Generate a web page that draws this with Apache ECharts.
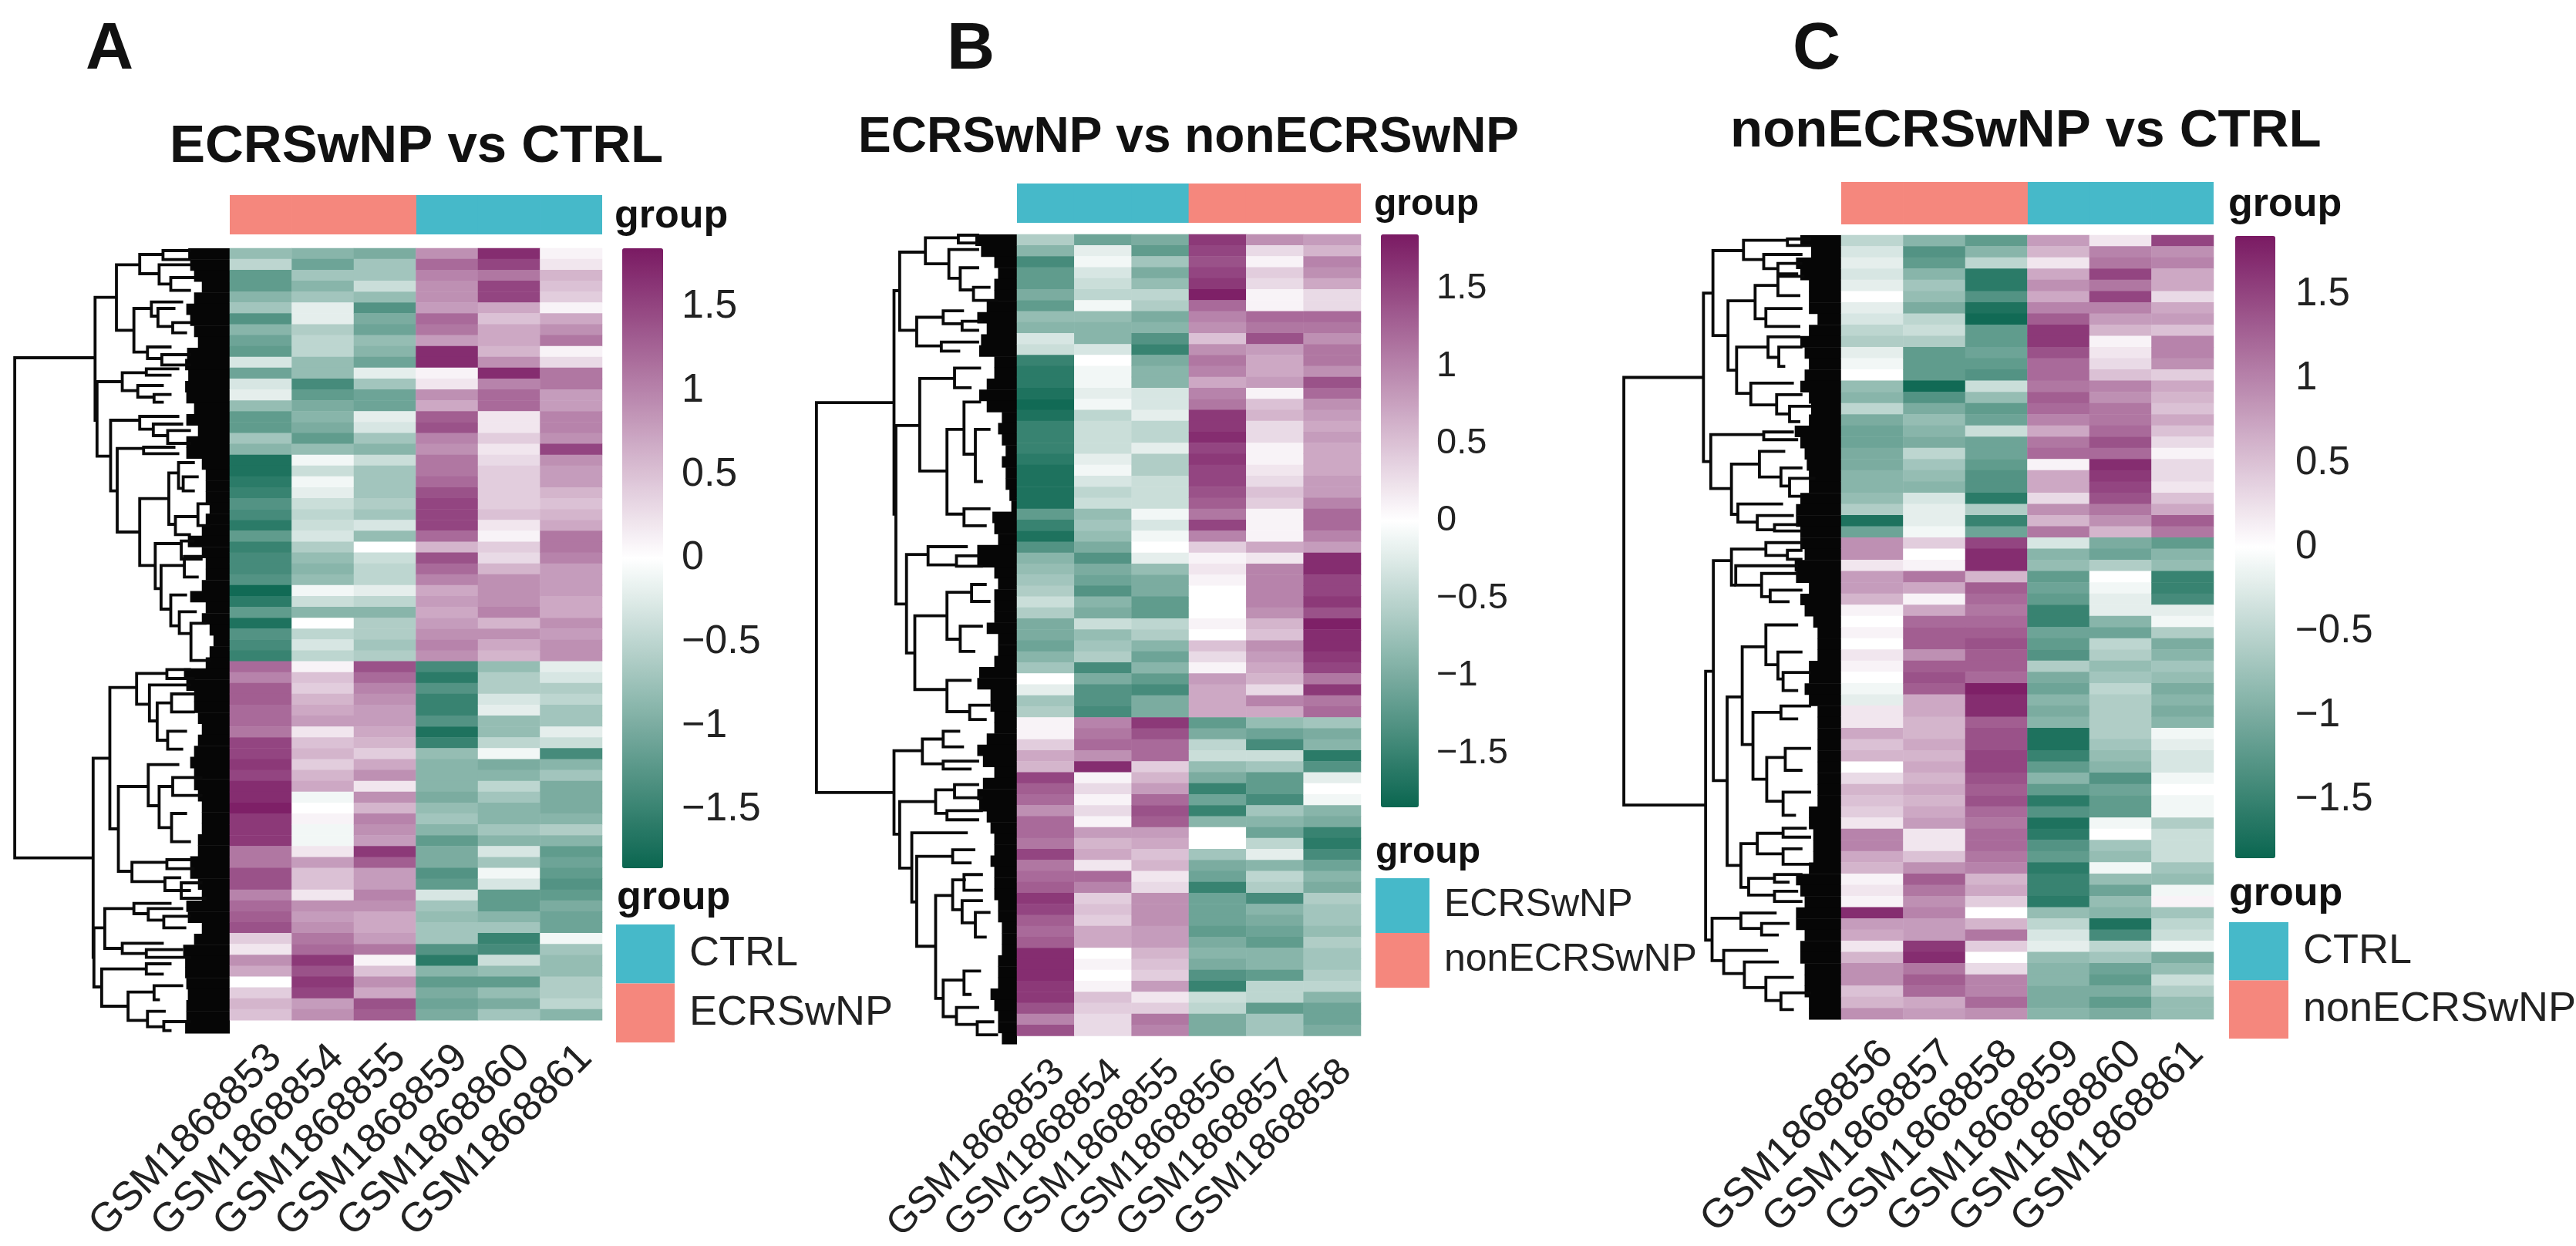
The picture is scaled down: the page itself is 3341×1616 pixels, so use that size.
<!DOCTYPE html>
<html><head><meta charset="utf-8">
<style>html,body{margin:0;padding:0;background:#fff}#c{width:3341px;height:1616px}</style>
<script src="https://cdn.jsdelivr.net/npm/echarts@6/dist/echarts.min.js"></script>
</head><body><div id="c"></div>
<script>
// ---------- data ----------
const colorTicks=[-1.5,-1,-.5,0,.5,1,1.5];
const samplesA=['GSM1868853','GSM1868854','GSM1868855','GSM1868859','GSM1868860','GSM1868861'];
const samplesB=['GSM1868853','GSM1868854','GSM1868855','GSM1868856','GSM1868857','GSM1868858'];
const samplesC=['GSM1868856','GSM1868857','GSM1868858','GSM1868859','GSM1868860','GSM1868861'];
const groupsA=['ECRSwNP','ECRSwNP','ECRSwNP','CTRL','CTRL','CTRL'];
const groupsB=['ECRSwNP','ECRSwNP','ECRSwNP','nonECRSwNP','nonECRSwNP','nonECRSwNP'];
const groupsC=['nonECRSwNP','nonECRSwNP','nonECRSwNP','CTRL','CTRL','CTRL'];

const a1=[-.8,-.5,-1.2,-1.2,-.9,-.7,-1.3,-.9,-1.1,-1.2,-.3,-1.1,-.3,-.2,-.8,-1.2,-1.2,-.7,-.9,-1.7,-1.7,-1.6,-1.5,-1.3,-1.4,-1.6,-1.2,-1.5,-1.4,-1.4,-1.3,-1.8,-1.6,-1.2,-1.7,-1.3,-1.4,-1.5,
1.2,1,1.3,1.3,1.2,1.2,1.1,1.5,1.5,1.6,1.5,1.7,1.7,1.8,1.6,1.6,1.6,1.1,1.1,1.4,1.4,1,1.2,1.3,1.4,.4,.2,.9,.7,0,.4,.6,.5];
const a2=[-.9,-1.1,-.7,-.9,-.7,-.2,-.2,-.6,-.5,-.5,-.8,-.8,-1.4,-1.2,-1,-.9,-1,-1.2,-.8,-.1,-.4,-.1,-.2,-.4,-.5,-.4,-.3,-.6,-.8,-.9,-.8,-.1,-.4,-.9,0,-.5,-.3,-.5,
.1,.5,.4,.6,.7,.8,.2,.5,.6,.4,.6,.7,-.1,0,.1,-.1,-.1,.2,.8,.5,.5,.2,.9,.8,.9,1.1,1.2,1.6,1.4,1.6,1.5,.8,.9];
const a3=[-1,-.7,-.7,-.4,-.8,-1.3,-1,-1.1,-.8,-.9,-1.1,-.2,-.7,-1.1,-1.1,-.2,-.3,-.7,-.9,-.4,-.7,-.7,-.7,-.6,-.7,-.3,-.8,0,-.4,-.5,-.5,-.2,-.5,-.9,-.6,-.6,-.7,-.6,
1.4,1.2,1,.9,.8,.8,.7,.6,.4,.7,.9,.2,.9,.6,1,.9,.8,1.6,1.3,.8,.8,1,.9,.7,.7,.8,1.1,.1,.5,.9,.7,1.4,1.3];
const a4=[.9,1.2,1,.9,.9,.8,1.2,1.1,.8,1.7,1.7,.1,.2,.9,.7,1.3,1.4,1,.9,1.1,1.1,1.2,1.4,1.5,1.5,1.5,1.2,.6,1.4,1.2,1,.7,.8,.7,.8,.9,1,.9,
-1.4,-1.6,-1.3,-1.5,-1.5,-1.3,-1.7,-1.5,-.8,-.9,-.9,-.9,-1,-.8,-.7,-.9,-1.2,-1,-1,-1.3,-1.2,-.3,-.7,-.8,-.7,-.7,-1.3,-1.6,-.9,-1.2,-1,-1.1,-1];
const a5=[1.7,1.5,1.1,1.5,1.5,.7,.5,.7,.7,.6,.9,1.7,1,1.2,1.2,.2,.2,.4,.2,.3,.4,.4,.4,.4,.5,.2,.1,.4,.3,.6,.9,.9,.9,1,.6,.9,.7,.6,
-.8,-.6,-.6,-.3,-.2,-.8,-.8,-.5,-.1,-1,-.9,-.5,-.7,-.9,-.9,-.7,-.9,-.3,-.7,-.1,-.3,-1.2,-1.2,-.9,-.7,-1.5,-1.4,-.4,-.8,-1.2,-.8,-1,-.7];
const a6=[.1,.2,.6,.5,.4,.1,.7,.9,1.1,.1,.3,1.1,1.1,.8,.8,1,1,.9,1.5,.9,.8,.8,.6,.5,.6,.7,1.1,1.1,1,.8,.8,.8,.7,.7,.9,.8,.9,.9,
-.2,-.3,-.6,-.5,-.7,-.7,-.2,-.4,-1.4,-.9,-.7,-1,-1,-1,-.9,-.6,-.9,-1.2,-1.1,-1.2,-1.3,-1.2,-1,-1.1,-1.1,-.1,-.7,-.8,-.8,-.6,-.6,-.5,-.9];

const b1=[-.6,-.9,-1.4,-1.2,-1.2,-1,-1.2,-.8,-.9,-.3,-.4,-1.5,-1.6,-1.6,-1.7,-1.8,-1.7,-1.5,-1.5,-1.5,-1.6,-1.7,-1.7,-1.7,-1.7,-1.2,-1.5,-1.7,-1.3,-.9,-.8,-.7,-.6,-.4,-.6,-1,-1,-1.1,-.9,-.7,0,-.2,-.7,-.6,
.1,.1,.4,.7,.6,1.5,1.3,1.2,.9,1.2,1.2,1.1,1.5,1.1,1.2,1.3,1.6,1.5,1.3,1.2,1.3,1.7,1.7,1.7,1.6,1.6,1.4,1,1.4];
const b2=[-1.1,-.2,-.1,-.3,-.4,-.5,-.1,-.8,-.9,-.9,-.3,0,-.1,-.1,-.2,-.1,-.5,-.4,-.4,-.4,-.2,-.1,-.3,-.5,-.4,-.8,-.7,-.8,-1,-1.3,-1,-1.1,-1.3,-.9,-1,-.4,-.8,-.7,-.6,-1.4,-1,-1.3,-1.3,-1.4,
1,1.1,1.2,.9,1.7,.1,.3,.1,.3,.1,.8,.6,.7,.2,1.2,1,.4,.5,.4,.7,.7,0,.1,0,.1,.5,.4,.3,.3];
const b3=[-1,-1.2,-.7,-1,-.8,-.5,-.6,-1,-.9,-1.3,-1.5,-1,-.9,-.9,-.3,-.3,-.2,-.5,-.5,-.2,-.6,-.6,-.4,-.4,-.4,-.1,-.3,-.1,0,-.2,-.8,-1,-1,-1.2,-1.2,-.5,-.6,-.9,-1.1,-.9,-1.2,-1.4,-1,-1,
1.6,1.4,1.2,1.2,.4,.6,.8,1.2,1.4,1.3,.8,.7,.5,.6,.2,.3,.9,.9,.9,.8,.8,.6,.5,.4,.8,.2,.4,1.1,1];
const b4=[1.6,1.5,1.4,1.5,1.6,1.8,1.2,1,.9,.5,.9,1.1,1,.7,1,1.1,1.6,1.6,1.7,1.5,1.6,1.5,1.5,1.4,1.3,1.1,1.5,1,.4,.1,.2,.1,0,0,0,.1,0,.5,.3,.1,.8,.7,.7,.7,
-1.2,-1,-.5,-.4,-.8,-1,-1.5,-1.1,-1.5,-.9,0,0,-.7,-1,-1.1,-1.5,-1.1,-1.1,-1.1,-1.2,-1,-.9,-1,-1.3,-1.5,-.4,-.5,-1,-1];
const b5=[.9,.3,.1,.4,.3,.1,.1,1.2,1.1,1.4,.8,.7,.7,.8,.1,.5,.6,.3,.3,.1,.1,.2,.3,.5,.4,.1,.1,.1,.7,.2,1,1,1,1,.9,.6,.5,.9,.8,.7,.6,.3,1,.7,
-.8,-1.1,-1.4,-.4,-.7,-1.2,-1.2,-1.4,-.7,-.9,-1.1,-.5,-.2,-.9,-.5,-.6,-1.4,-.9,-1,-1.1,-1.2,-.9,-.9,-1.2,-.5,-.5,-1.2,-.7,-.7];
const b6=[.8,.6,1,.9,.7,.3,.3,1.2,1.1,.9,1.1,1.1,.9,1.4,1.2,.9,.8,.7,.8,.7,.7,.7,.8,.8,1,1.2,1.2,1,.8,1.7,1.7,1.5,1.5,1.6,1.4,1.8,1.7,1.7,1.6,1.5,1.1,1.6,1.1,1.2,
-.7,-1,-.9,-1.6,-1.3,-.2,0,-.1,-.9,-1,-1.5,-1.6,-1.4,-1.1,-.9,-1,-.6,-.7,-.7,-.8,-.6,-.7,-.7,-.6,-.5,-.9,-1.1,-1.1,-1];

const c1=[-.5,-.3,-.2,-.3,-.2,0,-.2,-.3,-.5,-.6,-.2,-.1,0,-.8,-.9,-.5,-1,-1.1,-1.1,-1,-1,-.9,-.9,-.8,-.6,-1.7,-1.1,
.9,.9,.2,.8,.8,.6,.1,0,.1,0,.2,.1,0,-.1,-.2,.2,.2,.7,.5,.6,0,.3,.6,.5,.4,.2,1,1,.7,.6,.1,.2,.1,1.7,.8,.7,.2,.6,.9,.9,.5,.6,.9];
const c2=[-.9,-1.3,-1.2,-.9,-.7,-.8,-1,-.5,-.4,-.6,-1.2,-1.2,-1.2,-1.8,-1.3,-1,-.8,-.9,-1,-.5,-.7,-.8,-.9,-.3,-.2,-.2,-.1,
.4,0,.1,1.1,.7,.1,.7,1.2,1.3,1.3,.9,1.3,1.4,1.3,.7,.7,.6,.6,.7,.6,.7,.6,.7,.6,.7,.8,.2,.2,.5,.9,1.3,1.1,.9,1,.8,.8,1.6,1.7,1.1,1.3,1.2,.7,.8];
const c3=[-1.2,-.9,-.5,-1.6,-1.6,-1.3,-1.7,-1.8,-1.2,-1.2,-1.1,-1.2,-1.3,-.4,-.8,-1.2,-1.1,-.4,-1.1,-1.1,-1.2,-1.3,-1.3,-1.6,-.6,-1.5,-1.1,
1.5,1.7,1.7,.6,1.3,1.2,1.1,1.2,1.3,1.4,1.3,1.3,1.2,1.8,1.7,1.7,1.3,1.4,1.4,1.5,1.5,1.4,1.3,1.4,1.2,1.1,1.2,1.2,1.1,1,.6,.7,.4,0,.6,1.1,.4,0,.3,1,1,1.2,.9];
const c4=[.8,.6,.2,.7,.9,.7,1,1.3,1.6,1.6,1.4,1.2,1.2,1.1,1.3,1.2,1,.7,1.1,1.2,.1,.7,.7,.3,.9,.6,1.1,
-.3,-.9,-.8,-1.2,-1.1,-1.2,-1.5,-1.5,-1.1,-1.2,-1.3,-.6,-1,-1.1,-.9,-1,-.9,-1.7,-1.7,-1.5,-1.2,-.9,-1.2,-1.6,-1.3,-1.7,-1.6,-1.3,-1.2,-1.6,-1.5,-1.5,-1.6,-.8,-.5,-.3,-.2,-.8,-.9,-.9,-1,-1,-.9];
const c5=[.2,1,1.1,1.5,1.1,1.5,1,.8,.6,.1,.2,.3,.5,1,.9,1.1,1.1,1.2,1.4,1.2,1.7,1.6,1.5,1.4,1.1,.9,.6,
-1,-1.1,-.6,0,-.1,-.2,-.2,-.9,-1.1,-.5,-.6,-.8,-.7,-.5,-.6,-.6,-.6,-.6,-.7,-.8,-.9,-1.3,-1.1,-1.2,-1.2,-.1,0,-.7,-.8,-.1,-.8,-1.1,-.8,-.9,-1.7,-1.4,-.5,-.7,-1.1,-1.2,-1,-1.2,-1];
const c6=[1.5,.9,1,.7,.7,.3,.7,.8,.5,1,1,.9,.4,.7,.6,.5,.7,.5,.3,.1,.3,.3,.2,.5,.7,1.3,1.1,
-1.2,-.9,-.8,-1.5,-1.5,-1.4,-.2,-.1,-.6,-1,-.9,-.7,-.8,-1,-.9,-1,-.9,-.1,-.2,-.3,-.3,-.1,0,-.1,-.1,-.6,-.4,-.4,-.4,-.7,-.8,-.1,.1,-.7,-.5,-.4,-.1,-1,-.8,-.4,-.6,-.8,-.8];

// dendrogram merges: [height, branch 1 order, branch 2 order, height of branch 1, height of branch 2]
const treeA=[[554,426,2372,347,352],[347,191,669,292,342],[342,519,809,277,307],[292,64,319,232,247],[232,24,99,172,182],[172,9,44,100,100],[182,64,139,100,150],[152,114,164,90,100],[247,234,404,202,212],[202,209,264,120,185],[185,234,304,140,147],[147,289,329,100,110],[212,384,429,150,175],[175,414,454,100,100],[277,484,554,215,237],[215,469,494,130,150],[237,534,579,170,195],[195,569,599,150,170],[307,669,944,232,290],[232,654,704,130,197],[197,684,729,120,160],[160,709,759,100,100],[290,779,1104,222,232],[222,774,799,140,130],[232,974,1234,157,192],[157,874,1074,132,140],[132,834,934,90,120],[120,889,944,80,90],[140,1044,1114,82,100],[82,994,1079,50,50],[192,1149,1324,125,177],[125,1139,1209,90,70],[177,1234,1404,117,152],[117,1199,1279,70,80],[152,1349,1469,110,130],[130,1414,1499,85,100],[100,1459,1604,60,50],
[352,1984,2759,309,350],[350,2644,2874,322,330],[309,1709,2259,240,287],[240,1654,1774,162,207],[162,1639,1674,100,90],[207,1699,1839,100,187],[187,1769,1914,150,160],[150,1734,1804,90,90],[160,1879,1949,110,120],[287,2094,2424,210,252],[210,2009,2169,130,182],[182,2094,2254,147,150],[147,2059,2129,70,70],[150,2199,2309,110,100],[252,2389,2464,162,167],[162,2379,2414,100,90],[167,2449,2499,125,100],[125,2469,2529,70,60],[322,2569,2724,247,277],[247,2549,2589,150,210],[210,2569,2614,120,170],[170,2599,2644,100,112],[277,2704,2744,170,215],[215,2729,2759,120,100],[330,2804,2949,215,262],[215,2784,2824,150,170],[262,2894,3004,195,212],[195,2869,2924,120,180],[212,2969,3029,165,170],[170,3009,3044,100,150]];
const treeB=[[530,645,2141,325,325],[325,216,1073,310,320],[310,68,368,242,265],[242,13,113,155,180],[155,3,33,100,100],[180,58,168,100,150],[150,128,213,100,115],[115,203,253,70,50],[265,318,428,195,200],[195,293,343,140,145],[145,333,368,90,100],[200,413,448,100,150],[320,733,1418,257,292],[257,553,908,165,185],[165,513,588,95,120],[185,748,1073,140,140],[140,643,843,95,110],[110,748,948,70,90],[140,1053,1118,70,80],[292,1228,1606,235,270],[235,1198,1268,130,160],[160,1233,1273,100,90],[270,1463,1746,185,185],[185,1373,1553,120,150],[150,1503,1600,90,110],[120,1343,1408,80,70],[185,1711,1831,120,125],[125,1806,1861,70,80],
[325,1981,2301,250,310],[250,1936,2031,195,195],[195,1906,1966,150,140],[195,2021,2051,100,120],[310,2176,2431,215,278],[215,2131,2221,165,185],[165,2111,2161,100,90],[185,2211,2246,90,100],[278,2296,2561,130,265],[265,2386,2731,170,215],[170,2361,2411,110,120],[215,2536,2931,170,195],[170,2476,2591,135,145],[140,2456,2516,90,90],[145,2556,2641,90,110],[110,2601,2696,70,80],[195,2861,3001,140,160],[140,2826,2916,95,120],[160,2966,3031,100,105],[105,3021,3071,60,50]];
const treeC=[[505,553,2215,320,315],[320,225,880,298,303],[298,60,390,227,263],[227,20,95,125,180],[125,15,40,70,70],[180,75,130,90,147],[147,110,150,90,100],[263,255,525,200,243],[200,195,325,147,175],[147,160,235,85,95],[175,285,355,90,95],[243,435,615,170,210],[170,395,475,95,145],[145,435,510,90,130],[210,575,660,110,150],[150,620,695,90,120],[120,665,725,70,95],[303,775,985,180,255],[180,765,795,110,100],[255,890,1085,190,240],[190,840,940,130,140],[140,905,975,90,120],[120,945,1015,60,90],[240,1045,1115,135,195],[195,1090,1145,110,155],[155,1125,1150,100,90],
[315,1695,2740,297,300],[297,1265,2120,255,265],[255,1220,1360,175,245],[175,1195,1245,90,125],[125,1225,1260,90,90],[245,1285,1360,100,185],[185,1315,1405,100,165],[165,1380,1425,90,120],[265,1795,2450,230,233],[230,1600,1980,175,205],[175,1515,1670,100,147],[147,1620,1725,90,135],[135,1700,1770,70,100],[205,1855,2115,140,173],[140,1830,1880,70,100],[173,2030,2200,130,135],[130,1995,2080,70,90],[135,2165,2255,70,105],[233,2365,2535,195,215],[195,2325,2405,135,135],[135,2305,2340,80,70],[135,2385,2445,90,70],[215,2500,2565,155,155],[155,2485,2515,90,120],[155,2550,2590,100,90],[300,2655,2820,233,273],[233,2635,2695,150,185],[185,2675,2720,120,145],[273,2780,2870,170,225],[225,2825,2925,145,175],[175,2885,2975,110,140],[140,2945,3010,70,110]];
// height at which the leaves fuse into solid black, per heatmap row
const leafA=[107,102,92,72,92,112,102,92,82,110,115,107,115,112,92,112,82,112,112,72,62,62,62,52,62,72,108,72,62,62,72,102,62,72,52,42,52,62,118,112,92,92,82,72,82,92,102,92,92,82,72,72,72,82,82,102,102,82,72,112,108,72,92,120,115,115,112,108,112,112,115];
const leafB=[110,95,60,50,60,60,80,105,80,95,100,60,60,80,100,80,40,50,40,30,40,30,30,20,15,65,60,50,105,105,60,50,60,60,60,80,50,50,60,100,105,70,70,60,60,80,105,90,60,90,105,100,80,70,60,60,70,60,60,60,50,50,40,40,40,50,50,50,70,60,50,50,40];
const leafC=[95,70,105,95,75,75,75,55,75,95,85,75,85,95,75,70,75,108,95,85,80,75,75,95,105,105,95,95,85,108,105,75,95,85,65,55,55,55,75,75,85,75,55,55,55,55,55,55,55,55,55,75,75,65,65,65,75,105,95,85,105,105,85,95,95,85,85,85,75,75];

// ---------- layout and styles ----------
const TEAL='#46B9C9',SALMON='#F5877D',FONT='"Liberation Sans",Arial,sans-serif',INK='#111';
const panels=[
 {letter:'A',lx:111,title:'ECRSwNP vs CTRL',tx:220,ty:156,ts:69,samples:samplesA,groups:groupsA,cols:[a1,a2,a3,a4,a5,a6],tree:treeA,leaf:leafA,
  hm:[298,322,483,1018],strip:[253,51],den:[0,298,592,3054],cb:[807,322,53,804],cbFont:52,cbMargin:24,gx:797,gy:255,gs:52,
  lgTitle:[800,1139],lg:[799,1199,76,76.5,54],lgNames:['CTRL','ECRSwNP'],xFont:53,xMargin:22},
 {letter:'B',lx:1228,title:'ECRSwNP vs nonECRSwNP',tx:1113,ty:147,ts:64,samples:samplesB,groups:groupsB,cols:[b1,b2,b3,b4,b5,b6],tree:treeB,leaf:leafB,
  hm:[1319,304,446,1050],strip:[238,51],den:[1000,319,650,3106],cb:[1791,304,49,743],cbFont:47,cbMargin:23,gx:1782,gy:242,gs:48,
  lgTitle:[1784,1082],lg:[1784,1139,70,71,50],lgNames:['ECRSwNP','nonECRSwNP'],xFont:49,xMargin:22},
 {letter:'C',lx:2325,title:'nonECRSwNP vs CTRL',tx:2244,ty:136,ts:69,samples:samplesC,groups:groupsC,cols:[c1,c2,c3,c4,c5,c6],tree:treeC,leaf:leafC,
  hm:[2388,305,483,1017],strip:[236,55],den:[2000,388,695,3048],cb:[2899,306,52,807],cbFont:51,cbMargin:26,gx:2890,gy:240,gs:52,
  lgTitle:[2891,1134],lg:[2891,1196,77,75.5,54],lgNames:['CTRL','nonECRSwNP'],xFont:53,xMargin:18}
];
const grid=[],xAxis=[],yAxis=[],series=[],title=[],legend=[],visualMap=[];
function text(t,x,y,s){title.push({text:t,left:x,top:y,padding:0,textStyle:{fontFamily:FONT,fontWeight:'bold',fontSize:s,color:INK}});}
panels.forEach(p=>{
  text(p.letter,p.lx,22,86);text(p.title,p.tx,p.ty,p.ts);text('group',p.gx,p.gy,p.gs);text('group',p.lgTitle[0],p.lgTitle[1],p.gs);
  const [hl,ht,hw,hh]=p.hm, nRows=p.cols[0].length;
  let g=grid.length;
  grid.push({left:p.den[0],top:ht,width:p.den[1],height:hh});
  xAxis.push({type:'value',gridIndex:g,min:0,max:p.den[2],inverse:true,show:false});
  yAxis.push({type:'value',gridIndex:g,min:0,max:p.den[3],inverse:true,show:false});
  const rowU=p.den[3]/nRows;
  series.push({type:'custom',xAxisIndex:g,yAxisIndex:g,clip:false,silent:true,animation:false,data:p.leaf.map((d,i)=>[d,i]),
    encode:{x:0,y:1},
    renderItem:(params,api)=>{const a=api.coord([api.value(0),api.value(1)*rowU]),b=api.coord([0,(api.value(1)+1)*rowU]);
      return {type:'rect',shape:{x:a[0],y:a[1],width:b[0]-a[0],height:b[1]-a[1]+.5},style:{fill:'#060606'}};}});
  series.push({type:'custom',xAxisIndex:g,yAxisIndex:g,clip:false,silent:true,animation:false,data:p.tree,
    encode:{x:[0,3,4],y:[1,2]},
    renderItem:(params,api)=>{const h=api.value(0),y1=api.value(1),y2=api.value(2),c1=api.value(3),c2=api.value(4);
      return {type:'polyline',shape:{points:[api.coord([c1,y1]),api.coord([h,y1]),api.coord([h,y2]),api.coord([c2,y2])]},
        style:{stroke:'#0a0a0a',lineWidth:3.8,fill:null}};}});
  g=grid.length;
  grid.push({left:hl,top:ht,width:hw,height:hh});
  xAxis.push({type:'category',gridIndex:g,data:p.samples,position:'bottom',axisLine:{show:false},axisTick:{show:false},splitLine:{show:false},
    axisLabel:{interval:0,rotate:45,margin:p.xMargin,verticalAlign:'top',fontFamily:FONT,fontSize:p.xFont,color:'#222'}});
  yAxis.push({type:'category',gridIndex:g,inverse:true,data:p.cols[0].map((_,i)=>i),show:false});
  const cells=[];p.cols.forEach((col,x)=>col.forEach((v,y)=>cells.push([x,y,v])));
  visualMap.push({type:'continuous',seriesIndex:series.length,min:-1.85,max:1.85,calculable:false,show:true,showLabel:false,text:null,padding:0,
    left:p.cb[0],top:p.cb[1],itemWidth:p.cb[2],itemHeight:p.cb[3],inRange:{color:['#0A6650','#FFFFFF','#7A1A63']},hoverLink:false});
  series.push({type:'heatmap',xAxisIndex:g,yAxisIndex:g,data:cells,progressive:0,animation:false,emphasis:{disabled:true}});
  g=grid.length;
  grid.push({left:hl,top:p.strip[0],width:hw,height:p.strip[1]});
  xAxis.push({type:'category',gridIndex:g,data:p.samples,show:false});
  yAxis.push({type:'value',gridIndex:g,min:0,max:1,show:false});
  p.lgNames.forEach((n,k)=>series.push({type:'bar',name:n,xAxisIndex:g,yAxisIndex:g,barWidth:'101%',barGap:'-100%',
    itemStyle:{color:k?SALMON:TEAL},data:p.groups.map(c=>c===n?1:null),animation:false}));
  legend.push({orient:'vertical',left:p.lg[0],top:p.lg[1],padding:0,itemGap:0,itemWidth:p.lg[2],itemHeight:p.lg[3],selectedMode:false,icon:'rect',
    data:p.lgNames.map((n,k)=>({name:n,itemStyle:{color:k?SALMON:TEAL}})),
    textStyle:{fontFamily:FONT,fontSize:p.lg[4],color:'#222',padding:[0,0,0,14]}});
  g=grid.length;
  grid.push({left:p.cb[0],top:p.cb[1],width:p.cb[2],height:p.cb[3]});
  xAxis.push({type:'value',gridIndex:g,min:0,max:1,show:false});
  yAxis.push({type:'value',gridIndex:g,min:-1.85,max:1.85,position:'right',axisLine:{show:false},axisTick:{show:false},splitLine:{show:false},
    axisLabel:{customValues:colorTicks,margin:p.cbMargin,padding:[6,0,0,0],fontFamily:FONT,fontSize:p.cbFont,color:'#222',
      formatter:v=>String(v).replace('-','\u2212')}});
});
const chart=echarts.init(document.getElementById('c'),null,{renderer:'canvas',width:3341,height:1616,devicePixelRatio:1});
chart.setOption({animation:false,backgroundColor:'#fff',title,grid,xAxis,yAxis,series,legend,visualMap,tooltip:{show:false}});
</script></body></html>
